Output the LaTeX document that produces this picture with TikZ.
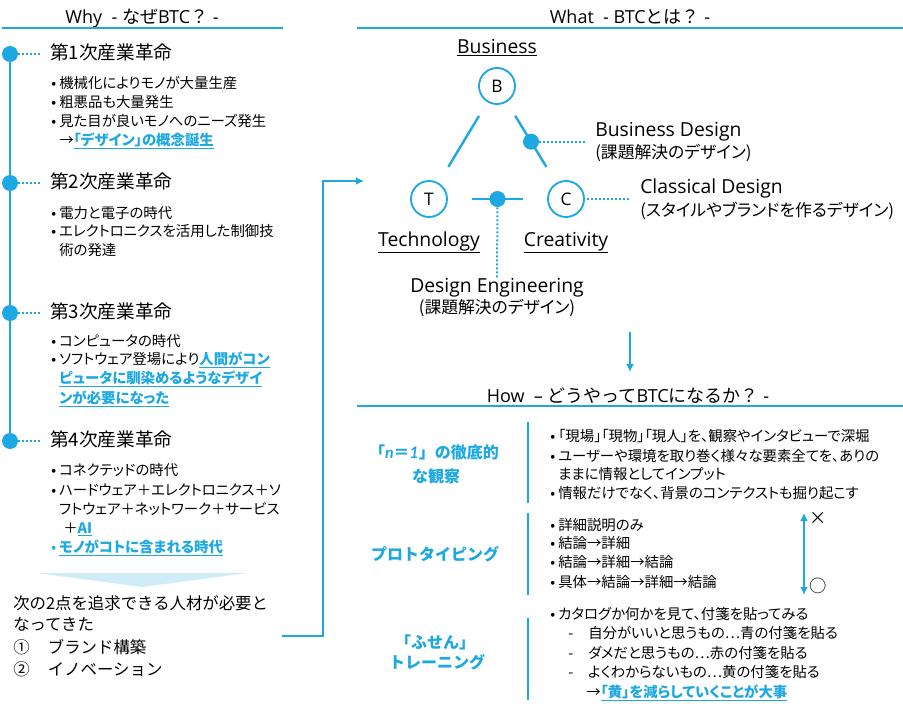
\documentclass[tikz,border=0pt]{standalone}
\usepackage{fontspec}
\setmainfont{Noto Sans CJK JP}
\newfontfamily\jpp[RawFeature=+palt]{Noto Sans CJK JP}
\newfontfamily\osfont{Open Sans}
\newfontfamily\latofont{Lato}
\usetikzlibrary{arrows.meta,positioning}

\definecolor{btcblue}{RGB}{29,168,226}
\definecolor{btcpale}{RGB}{209,236,249}

\newcommand{\ulin}[1]{$\underline{\hbox{#1}}$}
\newcommand{\hlt}[1]{\textcolor{btcblue}{\bfseries\ulin{#1}}}
\newcommand{\bul}{\makebox[6pt][l]{•}}
\newcommand{\lat}[1]{{\osfont #1}}

\tikzset{
  jt/.style={inner sep=0pt, text height=0.88em, text depth=0.12em},
  ttl/.style={jt, font=\fontsize{13.5}{15}\selectfont},
  ttlline/.style={btcblue, line width=1.6pt},
  tdot/.style={circle, fill=btcblue, minimum size=12pt, inner sep=0pt},
  sdot/.style={circle, fill=btcblue, minimum size=12pt, inner sep=0pt},
  dotline/.style={btcblue, line width=1.5pt, dash pattern=on 1.5pt off 1.5pt},
  head/.style={jt, anchor=west, font=\fontsize{14}{16}\selectfont},
  itm/.style={jt, anchor=west, font=\jpp\fontsize{10.8}{13}\selectfont},
  concl/.style={jt, anchor=west, font=\fontsize{12.3}{14}\selectfont},
  btc/.style={circle, draw=btcblue, line width=1.4pt, minimum size=27pt, inner sep=0pt, font=\osfont\fontsize{13}{15}\selectfont},
  tri/.style={btcblue, line width=1.8pt},
  lbl/.style={jt, font=\osfont\fontsize{14.5}{16}\selectfont},
  jlbl/.style={jt, font=\jpp\fontsize{12.6}{15}\selectfont},
  how/.style={jt, font=\bfseries\fontsize{12}{14}\selectfont, text=btcblue},
  hitm/.style={jt, anchor=west, font=\jpp\fontsize{10.8}{13}\selectfont},
  symb/.style={jt, font=\fontsize{13}{15}\selectfont},
  bar/.style={btcblue, line width=2.2pt},
  conn/.style={btcblue, line width=1.5pt},
}

\begin{document}
\begin{tikzpicture}[x=0.75pt, y=-0.75pt]
\useasboundingbox (0,0) rectangle (903,710);

% ===== Why =====
\node[ttl] (whyttl) at (142,18) {\lat{Why\ \ -\ }なぜ\lat{BTC}？\lat{\ -}};
\draw[ttlline] (2,28) -- (283,28);

% time line
\draw[btcblue, line width=2pt] (10,54) -- (10,441);
\node[tdot] (r1) at (10,54) {};
\node[tdot] (r2) at (10,183) {};
\node[tdot] (r3) at (10,313) {};
\node[tdot] (r4) at (10,441) {};
\node[head] (h1) at (50,54) {第1次産業革命};
\node[head] (h2) at (50,183) {第2次産業革命};
\node[head] (h3) at (50,313) {第3次産業革命};
\node[head] (h4) at (50,441) {第4次産業革命};
\foreach \i in {1,...,4}
  \draw[dotline, shorten >=7.5pt] (r\i.east) -- (h\i.west);

% 1st
\node[itm] (i11) at (51,83) {\bul 機械化によりモノが大量生産};
\node[itm] (i12) at (51,102) {\bul 粗悪品も大量発生};
\node[itm] (i13) at (51,121) {\bul 見た目が良いモノへのニーズ発生};
\node[itm] (i14) at (59,140) {→\hlt{「デザイン」の概念誕生}};
% 2nd
\node[itm] (i21) at (51,213) {\bul 電力と電子の時代};
\node[itm] (i22) at (51,231) {\bul エレクトロニクスを活用した制御技};
\node[itm] (i23) at (59,250) {術の発達};
% 3rd
\node[itm] (i31) at (51,341) {\bul コンピュータの時代};
\node[itm] (i32) at (51,359) {\bul ソフトウェア登場により\hlt{人間がコン}};
\node[itm] (i33) at (59,378) {\hlt{ピュータに馴染めるようなデザイ}};
\node[itm] (i34) at (59,398) {\hlt{ンが必要になった}};
% 4th
\node[itm] (i41) at (51,470) {\bul コネクテッドの時代};
\node[itm] (i42) at (51,490) {\bul ハードウェア＋エレクトロニクス＋ソ};
\node[itm] (i43) at (59,509) {フトウェア＋ネットワーク＋サービス};
\node[itm] (i44) at (63,528) {＋\hlt{AI}};
\node[itm] (i45) at (51,547) {\textcolor{btcblue}{\bul}\hlt{モノがコトに含まれる時代}};

% summary
\fill[btcpale] (37,573) -- (248,573) -- (142,587) -- cycle;
\node[concl] (c1) at (13,604) {次の2点を追求できる人材が必要と};
\node[concl] (c2) at (13,625) {なってきた};
\node[concl] (c3) at (13,648) {\makebox[26pt][l]{①}ブランド構築};
\node[concl] (c4) at (13,670) {\makebox[26pt][l]{②}イノベーション};

% elbow to What
\coordinate (cfrom) at (282,636);
\coordinate (cvia) at (323,636);
\coordinate (wto) at (364,181);
\draw[conn, -{Latex[length=6pt,width=6pt]}] (cfrom) -- (cvia) |- (wto);

% ===== What =====
\node[ttl] (whatttl) at (630,18) {\lat{What\ \ -\ BTC}とは？\lat{\ -}};
\draw[ttlline] (357,28) -- (903,28);

\node[lbl] (bus) at (497,48) {\ulin{Business}};
\node[btc] (B) at (497,86) {B};
\node[btc] (T) at (429,199) {T};
\node[btc] (C) at (566,199) {C};
\draw[tri, shorten <=12pt, shorten >=14pt] (B) -- (T);
\draw[tri, shorten <=12pt, shorten >=14pt] (B) -- (C);
\draw[tri, shorten <=18pt, shorten >=18pt] (T) -- (C);
\path (B) -- (C) node[sdot, pos=0.49] (bd) {};
\path (T) -- (C) node[sdot, midway] (de) {};

\node[lbl] (tech) at (429,241) {\ulin{Technology}};
\node[lbl] (crea) at (566,241) {\ulin{Creativity}};

\node[lbl, anchor=west] (bdt1) at (595,131) {Business Design};
\node[jlbl, anchor=west] (bdt2) at (595,153) {(課題解決のデザイン)};
\draw[dotline, shorten >=7.5pt] (bd) -- (bd -| bdt1.west);

\node[lbl, anchor=west] (cdt1) at (640,188) {Classical Design};
\node[jlbl, anchor=west] (cdt2) at (640,211) {(スタイルやブランドを作るデザイン)};
\draw[dotline, shorten <=1.5pt, shorten >=7.5pt] (C.east) -- (C -| cdt1.west);

\node[lbl] (det1) at (497,287) {Design Engineering};
\node[jlbl] (det2) at (497,308) {(課題解決のデザイン)};
\draw[dotline, shorten >=2pt] (de) -- (det1.north);

% down to How
\coordinate (wbot) at (630,332);
\coordinate (htop) at (630,372);
\draw[conn, -{Latex[length=6pt,width=6pt]}] (wbot) -- (htop);

% ===== How =====
\node[ttl] (howttl) at (628,397) {\lat{How\ \ –\ }どうやって\lat{BTC}になるか？\lat{\ -}};
\draw[ttlline] (357,406) -- (903,406);

\draw[bar] (528,422) -- (528,503);
\draw[bar] (528,513) -- (528,595);
\draw[bar] (528,618) -- (528,700);

\node[how] (n1a) at (434,453) {「{\latofont\bfseries\itshape n}＝{\latofont\bfseries\itshape 1}」の徹底的};
\node[how] (n1b) at (436,477) {な観察};
\node[how] (prt) at (435,555) {プロトタイピング};
\node[how] (fs1) at (435,643) {「ふせん」};
\node[how] (fs2) at (437,663) {トレーニング};

% observation
\node[hitm] (o1) at (550,436) {\bul 「現場」「現物」「現人」を、観察やインタビューで深堀};
\node[hitm] (o2) at (550,456) {\bul ユーザーや環境を取り巻く様々な要素全てを、ありの};
\node[hitm] (o3) at (558,474) {ままに情報としてインプット};
\node[hitm] (o4) at (550,493) {\bul 情報だけでなく、背景のコンテクストも掘り起こす};

% prototyping
\node[hitm] (p1) at (550,525) {\bul 詳細説明のみ};
\node[hitm] (p2) at (550,543) {\bul 結論→詳細};
\node[hitm] (p3) at (550,562) {\bul 結論→詳細→結論};
\node[hitm] (p4) at (550,582) {\bul 具体→結論→詳細→結論};
\coordinate (ptop) at (804,513);
\coordinate (pbot) at (804,595);
\draw[conn, {Latex[length=6pt,width=6pt]}-{Latex[length=6pt,width=6pt]}] (ptop) -- (pbot);
\node[symb] (ng) at (818,519) {×};
\node[symb] (ok) at (818,587) {○};

% fusen
\node[hitm] (f1) at (550,614) {\bul カタログか何かを見て、付箋を貼ってみる};
\node[hitm] (f2) at (568,633) {\makebox[15pt][l]{-}自分がいいと思うもの…青の付箋を貼る};
\node[hitm] (f3) at (568,653) {\makebox[15pt][l]{-}ダメだと思うもの…赤の付箋を貼る};
\node[hitm] (f4) at (568,672) {\makebox[15pt][l]{-}よくわからないもの…黄の付箋を貼る};
\node[hitm] (f5) at (586,692) {→\hlt{「黄」を減らしていくことが大事}};
\end{tikzpicture}
\end{document}
